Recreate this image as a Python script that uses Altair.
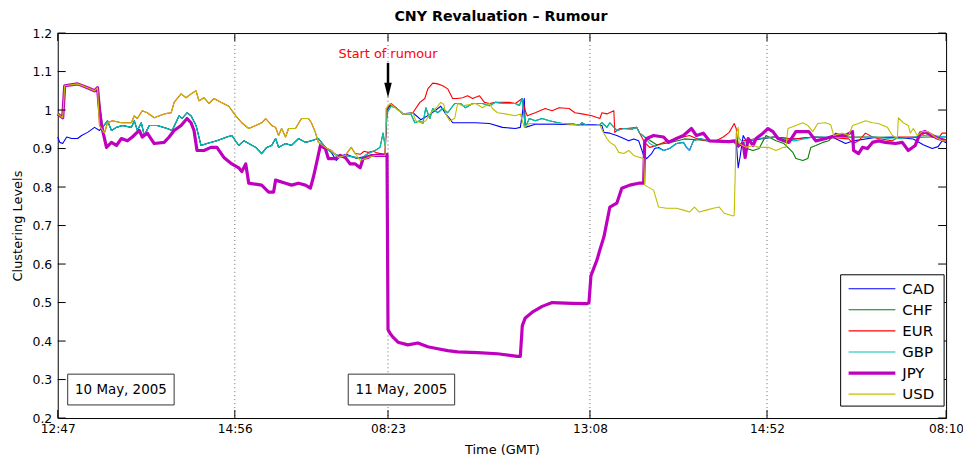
import altair as alt
import pandas as pd

FONT = "DejaVu Sans"

SERIES = ["CAD", "CHF", "EUR", "GBP", "JPY", "USD"]
COLORS = ["#0000ff", "#008000", "#ff0000", "#00bfbf", "#bf00bf", "#bfbf00"]
WIDTHS = [1.1, 1.1, 1.1, 1.1, 3.2, 1.1]

X_TICKS = [0, 178, 332, 535, 713, 893]
X_LABELS = ["12:47", "14:56", "08:23", "13:08", "14:52", "08:10"]
Y_TICKS = [0.2, 0.3, 0.4, 0.5, 0.6, 0.7, 0.8, 0.9, 1.0, 1.1, 1.2]

HEAD = [(0, 0.99), (5, 0.98), (7, 1.063), (20, 1.068), (30, 1.058), (37, 1.05), (40, 1.058)]

JPY_REST = [(42, 1.0), (44, 0.96), (49, 0.903), (54, 0.916), (59, 0.908), (64, 0.926), (70, 0.92),
            (75, 0.93), (79, 0.94), (82, 0.947), (85, 0.93), (90, 0.94), (97, 0.913), (107, 0.916),
            (112, 0.93), (117, 0.947), (124, 0.96), (130, 0.978), (134, 0.967), (137, 0.947),
            (140, 0.895), (147, 0.895), (154, 0.903), (160, 0.903), (167, 0.877), (175, 0.86),
            (182, 0.85), (185, 0.84), (189, 0.86), (192, 0.81), (205, 0.805), (212, 0.787),
            (217, 0.787), (219, 0.818), (229, 0.81), (235, 0.805), (242, 0.81), (249, 0.805),
            (254, 0.797), (257, 0.826), (260, 0.86), (264, 0.908), (269, 0.9), (272, 0.874),
            (279, 0.874), (284, 0.882), (289, 0.877), (294, 0.86), (299, 0.86), (304, 0.85),
            (307, 0.874), (312, 0.877), (315, 0.882), (329, 0.882), (331, 0.885), (332, 0.43),
            (334, 0.42), (337, 0.41), (342, 0.397), (352, 0.39), (362, 0.395), (372, 0.385),
            (382, 0.38), (392, 0.375), (402, 0.372), (422, 0.37), (442, 0.367), (462, 0.36),
            (465, 0.36), (467, 0.44), (470, 0.46), (477, 0.475), (487, 0.49), (497, 0.5),
            (517, 0.498), (532, 0.497), (534, 0.5), (536, 0.57), (542, 0.61), (545, 0.637),
            (549, 0.67), (555, 0.748), (562, 0.758), (567, 0.797), (575, 0.805), (584, 0.81),
            (589, 0.81), (590, 0.916), (592, 0.926), (599, 0.934), (609, 0.93), (614, 0.916),
            (622, 0.926), (629, 0.934), (637, 0.952), (642, 0.934), (649, 0.94), (655, 0.92),
            (675, 0.918), (680, 0.92), (684, 0.908), (689, 0.913), (691, 0.877), (694, 0.926),
            (699, 0.908), (702, 0.926), (709, 0.94), (714, 0.952), (719, 0.944), (724, 0.926),
            (730, 0.92), (735, 0.916), (742, 0.944), (755, 0.944), (762, 0.92), (772, 0.926),
            (782, 0.934), (792, 0.934), (799, 0.944), (800, 0.895), (805, 0.887), (809, 0.903),
            (814, 0.9), (819, 0.916), (825, 0.92), (832, 0.916), (842, 0.913), (849, 0.916),
            (855, 0.895), (862, 0.908), (867, 0.94), (872, 0.944), (879, 0.934), (885, 0.926),
            (893, 0.92)]

OLIVE_EARLY = [(42, 0.96), (47, 0.94), (50, 0.967), (55, 0.972), (64, 0.967), (74, 0.967),
               (77, 0.985), (80, 0.978), (85, 0.998), (90, 0.993), (97, 0.98), (107, 0.99),
               (114, 0.993), (117, 1.02), (124, 1.042), (129, 1.032), (134, 1.042), (139, 1.05),
               (142, 1.024), (147, 1.032), (152, 1.017), (157, 1.03), (164, 1.02), (172, 1.01),
               (179, 0.985), (185, 0.967), (192, 0.952), (199, 0.96), (205, 0.967), (209, 0.978),
               (215, 0.96), (219, 0.955), (222, 0.934), (225, 0.952), (229, 0.93), (232, 0.952),
               (239, 0.952), (245, 0.978), (252, 0.978), (255, 0.967), (259, 0.942), (262, 0.916),
               (269, 0.903), (275, 0.895), (282, 0.877), (289, 0.882), (295, 0.903)]

USD_REST = [(299, 0.887), (304, 0.869), (312, 0.877), (319, 0.882), (329, 0.882), (330, 1.004),
            (334, 1.017), (339, 1.006), (347, 0.99), (352, 0.99), (357, 0.993), (360, 0.972),
            (365, 0.967), (370, 0.972), (375, 0.993), (380, 1.004), (385, 1.02), (388, 1.015),
            (390, 0.99), (394, 0.972), (399, 0.978), (402, 1.017), (407, 1.011), (414, 1.014),
            (420, 1.017), (427, 1.006), (434, 1.017), (437, 1.004), (442, 0.993), (450, 0.99),
            (460, 0.985), (465, 0.99), (469, 0.955), (474, 0.965), (490, 0.965), (507, 0.965),
            (527, 0.96), (540, 0.96), (545, 0.96), (549, 0.94), (552, 0.926), (555, 0.916),
            (560, 0.908), (564, 0.89), (569, 0.887), (574, 0.895), (579, 0.882), (585, 0.877),
            (589, 0.874), (590, 0.805), (599, 0.792), (604, 0.748), (612, 0.745), (622, 0.745),
            (629, 0.74), (635, 0.735), (640, 0.748), (645, 0.735), (652, 0.74), (659, 0.745),
            (665, 0.748), (670, 0.732), (679, 0.725), (680, 0.727), (682, 0.94), (684, 0.955),
            (685, 0.913), (692, 0.903), (699, 0.908), (705, 0.903), (715, 0.903), (722, 0.895),
            (729, 0.903), (732, 0.903), (734, 0.952), (742, 0.96), (749, 0.967), (754, 0.96),
            (759, 0.944), (764, 0.965), (772, 0.967), (777, 0.962), (780, 0.934), (789, 0.94),
            (795, 0.934), (799, 0.96), (805, 0.965), (812, 0.972), (819, 0.967), (825, 0.965),
            (834, 0.955), (839, 0.934), (844, 0.926), (845, 0.98), (850, 0.967), (855, 0.96),
            (857, 0.94), (860, 0.952), (864, 0.934), (869, 0.944), (875, 0.944), (882, 0.93),
            (889, 0.92), (893, 0.92)]

EUR_REST = [(299, 0.887), (304, 0.885), (308, 0.893), (312, 0.89), (317, 0.893), (322, 0.888),
            (329, 0.885), (331, 1.004), (335, 1.017), (340, 1.006), (347, 0.99), (352, 0.99),
            (357, 0.993), (364, 1.02), (369, 1.03), (372, 1.055), (377, 1.07), (382, 1.068),
            (387, 1.063), (392, 1.055), (397, 1.03), (402, 1.03), (407, 1.032), (412, 1.037),
            (417, 1.03), (424, 1.037), (429, 1.02), (434, 1.017), (440, 1.02), (447, 1.02),
            (454, 1.02), (460, 1.017), (467, 1.03), (470, 0.998), (472, 0.985), (480, 0.993),
            (490, 1.004), (497, 0.998), (504, 1.006), (514, 1.004), (520, 0.993), (527, 0.99),
            (537, 0.985), (545, 0.978), (547, 0.993), (552, 0.99), (559, 0.998), (560, 0.942),
            (565, 0.952), (572, 0.952), (582, 0.955), (585, 0.94), (590, 0.916), (595, 0.903),
            (602, 0.908), (609, 0.916), (615, 0.92), (622, 0.926), (629, 0.93), (635, 0.934),
            (642, 0.926), (652, 0.92), (662, 0.92), (669, 0.93), (675, 0.942), (680, 0.965),
            (682, 0.952), (684, 0.903), (689, 0.92), (700, 0.925), (720, 0.93), (740, 0.925),
            (760, 0.93), (780, 0.928), (795, 0.925), (800, 0.913), (805, 0.92), (812, 0.94),
            (819, 0.93), (825, 0.926), (839, 0.92), (845, 0.93), (865, 0.93), (872, 0.94),
            (879, 0.93), (885, 0.926), (889, 0.94), (893, 0.94)]

TEAL_EARLY = [(45, 0.955), (50, 0.972), (54, 0.947), (59, 0.955), (65, 0.96), (74, 0.955),
              (77, 0.972), (80, 0.947), (84, 0.967), (87, 0.934), (92, 0.96), (100, 0.96),
              (110, 0.952), (115, 0.947), (122, 0.985), (125, 0.978), (130, 0.993), (134, 0.985),
              (139, 0.96), (144, 0.908), (150, 0.913), (160, 0.92), (170, 0.93), (175, 0.934),
              (182, 0.908), (187, 0.92), (192, 0.913), (199, 0.903), (205, 0.887), (210, 0.903),
              (215, 0.908), (219, 0.926), (222, 0.903), (229, 0.913), (235, 0.908), (242, 0.926),
              (249, 0.916), (255, 0.92), (262, 0.926), (269, 0.903), (275, 0.89)]

GBP_MID = [(282, 0.882), (289, 0.882), (299, 0.877), (305, 0.874), (312, 0.887), (319, 0.895),
           (324, 0.903), (327, 0.94), (329, 0.908), (331, 0.993), (335, 1.01), (340, 1.006),
           (347, 0.99), (355, 0.99), (359, 0.967), (364, 0.972), (367, 0.965), (370, 1.006),
           (374, 0.978), (377, 1.004), (382, 0.993), (387, 1.004), (392, 0.993), (399, 1.017),
           (405, 1.017), (410, 1.006), (417, 1.017), (427, 1.017), (434, 1.011), (440, 1.02),
           (450, 1.017), (460, 1.017), (464, 1.012), (467, 1.03), (470, 0.955), (474, 0.978),
           (480, 0.972), (487, 0.978), (494, 0.972), (507, 0.965), (517, 0.965), (524, 0.96),
           (527, 0.967), (532, 0.96), (544, 0.96), (547, 0.967), (552, 0.955), (555, 0.967),
           (562, 0.947), (569, 0.952), (577, 0.95), (582, 0.955), (585, 0.94), (590, 0.93)]

GBP_LATE = [(595, 0.913), (602, 0.903), (609, 0.895), (615, 0.9), (622, 0.913), (629, 0.916),
            (632, 0.903), (635, 0.895), (639, 0.92), (645, 0.926), (655, 0.92), (665, 0.92),
            (675, 0.916), (680, 0.92), (684, 0.93), (689, 0.915), (700, 0.925), (720, 0.93),
            (740, 0.92), (760, 0.93), (780, 0.93), (800, 0.928), (820, 0.93), (840, 0.925),
            (860, 0.93), (875, 0.935), (893, 0.93)]

CHF_LATE = [(602, 0.91), (615, 0.915), (630, 0.925), (645, 0.922), (660, 0.92), (675, 0.92),
            (684, 0.915), (689, 0.903), (699, 0.895), (705, 0.9), (712, 0.934), (722, 0.92),
            (730, 0.913), (739, 0.89), (742, 0.874), (749, 0.869), (754, 0.874), (757, 0.903),
            (762, 0.908), (769, 0.916), (775, 0.92), (782, 0.94), (789, 0.934), (795, 0.93),
            (820, 0.93), (850, 0.928), (875, 0.93), (893, 0.93)]

CAD_START = [(0, 0.93), (2, 0.916), (5, 0.913), (9, 0.93), (14, 0.926), (20, 0.926), (24, 0.934),
             (30, 0.942), (37, 0.955), (42, 0.947)]

CAD_REST = [(280, 0.869), (284, 0.88), (290, 0.885), (300, 0.875), (310, 0.88), (320, 0.885),
            (329, 0.885), (331, 1.0), (335, 1.015), (340, 1.006), (347, 0.99), (357, 0.993),
            (365, 0.975), (375, 0.99), (385, 1.01), (390, 0.99), (394, 0.978), (397, 0.967),
            (420, 0.967), (434, 0.965), (447, 0.955), (460, 0.952), (465, 0.955), (467, 0.99),
            (469, 1.03), (470, 0.955), (480, 0.963), (500, 0.963), (520, 0.962), (540, 0.962),
            (547, 0.96), (549, 0.942), (555, 0.94), (562, 0.934), (569, 0.926), (574, 0.92),
            (579, 0.925), (584, 0.92), (589, 0.882), (592, 0.874), (597, 0.887), (600, 0.9),
            (604, 0.903), (609, 0.895), (615, 0.9), (622, 0.913), (629, 0.916), (632, 0.903),
            (635, 0.895), (639, 0.92), (645, 0.926), (655, 0.92), (665, 0.92), (675, 0.916),
            (682, 0.92), (684, 0.85), (686, 0.88), (689, 0.934), (692, 0.92), (700, 0.922),
            (720, 0.93), (740, 0.925), (760, 0.93), (780, 0.928), (792, 0.913), (800, 0.92),
            (820, 0.928), (840, 0.93), (860, 0.925), (870, 0.91), (879, 0.9), (885, 0.905),
            (889, 0.92), (893, 0.915)]

SERIES_POINTS = {
    "CAD": CAD_START + TEAL_EARLY + CAD_REST,
    "CHF": HEAD + TEAL_EARLY + GBP_MID + CHF_LATE,
    "EUR": HEAD + OLIVE_EARLY + EUR_REST,
    "GBP": HEAD + TEAL_EARLY + GBP_MID + GBP_LATE,
    "JPY": HEAD + JPY_REST,
    "USD": HEAD + OLIVE_EARLY + USD_REST,
}

# annotations
RUMOUR_T = 332
DATE_LABELS = ["10 May, 2005", "11 May, 2005"]
DATE_X0 = [10, 292]
DATE_X1 = [117, 399]

rows = []
for s in SERIES:
    for t, v in SERIES_POINTS[s]:
        rows.append({"series": s, "t": t, "v": v})
df = pd.DataFrame(rows)

W, H = 893, 387

label_expr = "''"
for pos, lab in zip(reversed(X_TICKS), reversed(X_LABELS)):
    label_expr = f"datum.value == {pos} ? '{lab}' : ({label_expr})"

x_axis = alt.Axis(values=X_TICKS, labelExpr=label_expr, grid=False, ticks=False, tickSize=0,
                  domain=False, labelFont=FONT, labelFontSize=12.2, labelColor="black",
                  labelPadding=5, labelFlush=False, title="Time (GMT)", titleFont=FONT,
                  titleFontSize=13, titleFontWeight="normal", titleColor="black",
                  titleX=W / 2, titleY=32, titleBaseline="middle", titleAlign="center")
y_axis = alt.Axis(values=Y_TICKS,
                  labelExpr="abs(datum.value - 1) < 0.001 ? '1' : format(datum.value, '.1f')",
                  grid=False, ticks=False, tickSize=0, domain=False, labelFont=FONT,
                  labelFontSize=12.5, labelColor="black", labelPadding=6, labelFlush=False,
                  title="Clustering Levels", titleFont=FONT, titleFontSize=13,
                  titleFontWeight="normal", titleColor="black", titleX=-40, titleY=H / 2,
                  titleBaseline="middle", titleAlign="center")

xscale = alt.Scale(domain=[0, 893], nice=False, zero=False)
yscale = alt.Scale(domain=[0.2, 1.2], nice=False, zero=False)


def X(field):
    return alt.X(f"{field}:Q", scale=xscale, axis=x_axis)


def Y(field):
    return alt.Y(f"{field}:Q", scale=yscale, axis=y_axis)


one = pd.DataFrame({"a": [0]})

grid = alt.Chart(pd.DataFrame({"t": X_TICKS[1:-1]})).mark_rule(
    color="#666", strokeDash=[1, 3], strokeWidth=1).encode(x=X("t"))

# one line layer per currency, drawn in legend order (USD on top)
line_layers = []
for s, c, w in zip(SERIES, COLORS, WIDTHS):
    line_layers.append(
        alt.Chart(df).transform_filter(alt.datum.series == s).mark_line(
            color=c, strokeWidth=w, strokeJoin="round").encode(x=X("t"), y=Y("v"))
    )

xt = pd.DataFrame({"t": X_TICKS})
yt = pd.DataFrame({"v": Y_TICKS})
tick_b = alt.Chart(xt).mark_rule(color="black").encode(x=X("t"), y=alt.value(H - 8), y2=alt.value(H))
tick_t = alt.Chart(xt).mark_rule(color="black").encode(x=X("t"), y=alt.value(0), y2=alt.value(8))
tick_l = alt.Chart(yt).mark_rule(color="black").encode(y=Y("v"), x=alt.value(0), x2=alt.value(8))
tick_r = alt.Chart(yt).mark_rule(color="black").encode(y=Y("v"), x=alt.value(W - 8), x2=alt.value(W))

title = alt.Chart(one).mark_text(text="CNY Revaluation – Rumour", font=FONT, fontSize=14.3,
                                 fontWeight="bold", color="black", baseline="alphabetic",
                                 align="center").encode(x=alt.value(W / 2 - 1), y=alt.value(-12))

ann = pd.DataFrame({"t": [RUMOUR_T], "v": [1.146], "v_top": [1.1225], "v_bot": [1.063],
                    "v_head": [1.0514], "label": ["Start of rumour"]})
rumour_text = alt.Chart(ann).mark_text(color="red", font=FONT, fontSize=12.9,
                                       baseline="middle").encode(x=X("t"), y=Y("v"), text="label:N")
arrow_shaft = alt.Chart(ann).mark_rule(color="black", strokeWidth=2.5).encode(
    x=X("t"), y=Y("v_top"), y2="v_bot:Q")
arrow_head = alt.Chart(ann).mark_point(shape="M-0.5,-1L0.5,-1L0,1Z", filled=True, size=225,
                                       color="black", opacity=1).encode(x=X("t"), y=Y("v_head"))

boxes = pd.DataFrame({"x0": DATE_X0, "x1": DATE_X1, "y0": [0.234, 0.234], "y1": [0.314, 0.314],
                      "xc": [(a + b) / 2 for a, b in zip(DATE_X0, DATE_X1)],
                      "yc": [0.274, 0.274], "label": DATE_LABELS})
box_rect = alt.Chart(boxes).mark_rect(fill="white", stroke="#333", strokeWidth=1).encode(
    x=X("x0"), x2="x1:Q", y=Y("y0"), y2="y1:Q")
box_text = alt.Chart(boxes).mark_text(font=FONT, fontSize=13.5, color="black",
                                      baseline="middle").encode(x=X("xc"), y=Y("yc"), text="label:N")

leg_layers = [alt.Chart(one).mark_rect(fill="white", stroke="black", strokeWidth=1).encode(
    x=alt.value(787), x2=alt.value(891), y=alt.value(243), y2=alt.value(375))]
for i, (s, c, w) in enumerate(zip(SERIES, COLORS, WIDTHS)):
    yy = 257 + 21.2 * i
    leg_layers.append(alt.Chart(one).mark_rule(color=c, strokeWidth=w).encode(
        x=alt.value(795), x2=alt.value(842), y=alt.value(yy)))
    leg_layers.append(alt.Chart(one).mark_text(font=FONT, fontSize=15, color="black", align="left",
                                               baseline="middle", text=s).encode(
        x=alt.value(849), y=alt.value(yy)))

chart = alt.layer(grid, *line_layers, tick_b, tick_t, tick_l, tick_r, title, rumour_text,
                  arrow_shaft, arrow_head, box_rect, box_text, *leg_layers).properties(
    width=W, height=H,
    autosize=alt.AutoSizeParams(type="none"),
    padding={"left": 50, "top": 24, "right": 17, "bottom": 40},
).configure_view(stroke="black", strokeWidth=1)

chart.save("out.html", embed_options={"renderer": "svg", "actions": False})
